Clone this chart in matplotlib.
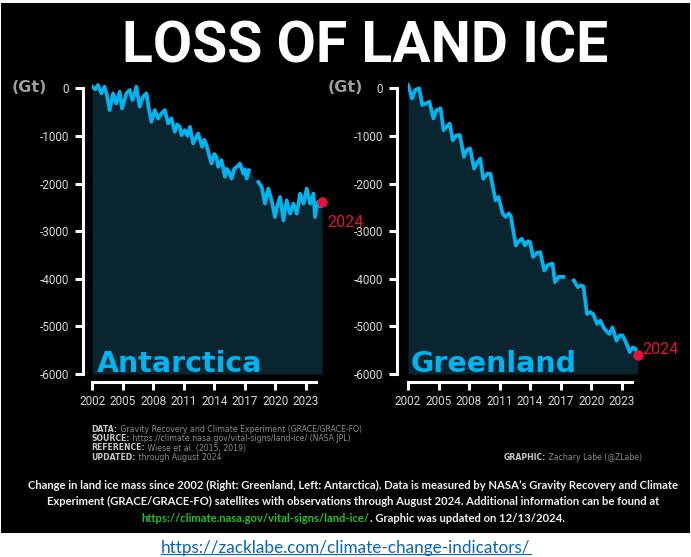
import numpy as np
import matplotlib
matplotlib.use("Agg")
import matplotlib.pyplot as plt
from matplotlib.patches import Rectangle
from matplotlib.lines import Line2D

ant_years = [
    2002.0, 2002.3, 2002.56, 2002.89, 2003.2, 2003.45, 2003.7, 2004.04, 2004.36, 2004.69,
    2004.92, 2005.15, 2005.35, 2005.68, 2005.94, 2006.15, 2006.33, 2006.66, 2006.99, 2007.32,
    2007.55, 2007.81, 2008.14, 2008.47, 2008.8, 2009.13, 2009.45, 2009.78, 2010.11, 2010.35,
    2010.6, 2010.77, 2011.1, 2011.35, 2011.59, 2011.92, 2012.15, 2012.41, 2012.8, 2013.0,
    2013.23, 2013.5, 2013.72, 2014.0, 2014.2, 2014.38, 2014.7, 2014.9, 2015.04, 2015.2,
    2015.37, 2015.7, 2015.95, 2016.19, 2016.52, 2016.85, 2017.0, 2017.17, 2017.4,
    2018.32, 2018.65, 2018.98, 2019.3, 2019.63, 2019.96, 2020.2, 2020.46, 2020.79, 2021.11,
    2021.44, 2021.77, 2022.1, 2022.43, 2022.76, 2023.08, 2023.41, 2023.74, 2023.9, 2024.1,
    2024.23, 2024.42, 2024.6,
]
ant_mass = [
    35, -20, 70, -105, 35, -150, -456, -105, -316, -70,
    -421, -250, -105, -35, -246, -120, 35, -386, -175, -105,
    -420, -702, -456, -632, -527, -456, -737, -632, -912, -760,
    -807, -983, -878, -1000, -807, -1158, -1050, -948, -1228, -1080,
    -1193, -1420, -1579, -1380, -1439, -1649, -1509, -1700, -1860, -1690,
    -1720, -1895, -1690, -1650, -1580, -1790, -1700, -1895, -1720,
    -1966, -2071, -2422, -2106, -2352, -2703, -2450, -2282, -2773, -2352,
    -2633, -2422, -2633, -2211, -2422, -2106, -2422, -2211, -2703, -2420,
    -2380, -2480, -2390,
]

grn_years = [
    2002.0, 2002.15, 2002.4, 2002.7, 2003.1, 2003.4, 2003.65, 2004.1, 2004.5, 2004.8,
    2005.2, 2005.5, 2005.8, 2006.1, 2006.4, 2006.75, 2007.1, 2007.5, 2007.8, 2008.1,
    2008.5, 2008.8, 2009.1, 2009.4, 2009.8, 2010.1, 2010.6, 2010.9, 2011.3, 2011.6,
    2011.9, 2012.1, 2012.6, 2012.85, 2013.2, 2013.5, 2013.8, 2014.0, 2014.3, 2014.65,
    2015.0, 2015.4, 2015.7, 2016.2, 2016.45, 2016.8, 2017.3,
    2018.3, 2018.7, 2019.0, 2019.25, 2019.6, 2019.9, 2020.2, 2020.6, 2020.9, 2021.3,
    2021.8, 2022.1, 2022.5, 2022.8, 2023.1, 2023.5, 2023.8, 2024.1, 2024.35, 2024.6,
]
grn_mass = [
    70, -20, -210, -35, 0, -350, -330, -280, -630, -460,
    -420, -880, -800, -740, -1090, -990, -980, -1440, -1290, -1260,
    -1685, -1560, -1475, -1900, -1790, -1790, -2350, -2280, -2630, -2700,
    -2630, -2680, -3300, -3220, -3160, -3300, -3210, -3230, -3540, -3460,
    -3440, -3825, -3720, -3680, -4070, -3960, -3960,
    -4035, -4175, -4140, -4160, -4740, -4700, -4740, -4950, -4880, -5050,
    -5160, -5020, -5300, -5190, -5190, -5370, -5540, -5440, -5470, -5600,
]

year_ticks = [2002, 2005, 2008, 2011, 2014, 2017, 2020, 2023]
mass_ticks = [-6000, -5000, -4000, -3000, -2000, -1000, 0]

source_lines = [
    ("DATA:", " Gravity Recovery and Climate Experiment (GRACE/GRACE-FO)"),
    ("SOURCE:", " https://climate.nasa.gov/vital-signs/land-ice/ (NASA JPL)"),
    ("REFERENCE:", " Wiese et al. (2015, 2019)"),
    ("UPDATED:", " through August 2024"),
]
caption_lines = [
    "Change in land ice mass since 2002 (Right: Greenland, Left: Antarctica). "
    "Data is measured by NASA\u2019s Gravity Recovery and Climate",
    "Experiment (GRACE/GRACE-FO) satellites with observations through August 2024. "
    "Additional information can be found at",
]
caption_link = "https://climate.nasa.gov/vital-signs/land-ice/"
caption_tail = ". Graphic was updated on 12/13/2024."
page_url = "https://zacklabe.com/climate-change-indicators/"

LINE = "#00b4f0"
FILL = "#082530"
RED = "#e0143c"
TICK = "#d9d9d9"
NARROW = "Roboto"

W, H = 691, 557


def fx(px):
    return px / W


def fy(py):
    return 1 - py / H


def draw_panel(ax, years, mass, name, name_x, label_dx, label_dy, spine_out):
    years = np.asarray(years, dtype=float)
    mass = np.asarray(mass, dtype=float)

    ax.fill_between(years, mass, -6000, color=FILL, lw=0, zorder=1)

    # break the line between GRACE and GRACE-FO
    gap = np.where(np.diff(years) > 0.6)[0][0] + 1
    for sl in (slice(0, gap), slice(gap, None)):
        ax.plot(years[sl], mass[sl], color=LINE, lw=2.7, solid_joinstyle="round", zorder=3)

    ax.plot(years[-1], mass[-1], "o", color=RED, ms=6.5, zorder=4, clip_on=False)
    ax.text(years[-1] + label_dx, mass[-1] + label_dy, "2024", color=RED, fontsize=11.5,
            family=NARROW, ha="left", va="center", clip_on=False)

    ax.text(name_x, -5960, name, color=LINE, fontsize=20.5, fontweight="bold",
            ha="left", va="baseline", zorder=5)

    ax.set_xlim(2002, 2024.7)
    ax.set_ylim(-6000, 150)
    ax.set_facecolor("none")
    for side in ("top", "right"):
        ax.spines[side].set_visible(False)
    ax.spines["left"].set_position(("outward", spine_out))
    ax.spines["left"].set_bounds(-6000, 0)
    ax.spines["bottom"].set_position(("outward", 5.5))
    ax.spines["bottom"].set_bounds(2002, 2024)
    for side in ("left", "bottom"):
        ax.spines[side].set_color("white")
        ax.spines[side].set_linewidth(2.2)

    ax.set_xticks(year_ticks)
    ax.set_xticklabels([str(y) for y in year_ticks])
    ax.set_yticks(mass_ticks)
    ax.set_yticklabels([str(m) for m in mass_ticks])
    ax.tick_params(color="white", labelcolor=TICK, length=5.5, width=2.2, labelsize=8.5)
    ax.tick_params(axis="x", pad=4)
    ax.tick_params(axis="y", pad=4.5)
    for lab in ax.get_xticklabels() + ax.get_yticklabels():
        lab.set_family(NARROW)


fig = plt.figure(figsize=(W / 100, H / 100), dpi=100)
fig.patch.set_facecolor("white")
fig.patches.append(Rectangle((fx(1), fy(533.3)), fx(689), (533.3 - 2.7) / H,
                             transform=fig.transFigure, facecolor="black", lw=0, zorder=-10))

ax_bottom = fy(374)
ax_height = (374 - 81.2) / H
ax_width = 230.9 / W
ax_ant = fig.add_axes([fx(92.3), ax_bottom, ax_width, ax_height])
ax_grn = fig.add_axes([fx(408), ax_bottom, ax_width, ax_height])

draw_panel(ax_ant, ant_years, ant_mass, "Antarctica", 2002.4, 0.45, -430, 7)
draw_panel(ax_grn, grn_years, grn_mass, "Greenland", 2002.25, 0.45, 120, 8)

fig.text(fx(365), fy(62.7), "LOSS OF LAND ICE", color="white", fontsize=41,
         fontweight="bold", family=NARROW, ha="center", va="baseline")
for x0 in (12, 328):
    fig.text(fx(x0), fy(88), "(Gt)", color="#9e9e9e", fontsize=11.5, fontweight="bold",
             ha="left", va="center")

# source block
src_size = 5.6
for (lab, rest), py in zip(source_lines, [429, 438.5, 448, 457.3]):
    t = fig.text(fx(91.7), fy(py), lab, color="#c8c8c8", fontsize=src_size,
                 fontweight="bold", ha="left", va="center")
    ax_ant.annotate(rest, xy=(1, 0), xycoords=t, color="#8c8c8c", fontsize=src_size,
                    ha="left", va="bottom", annotation_clip=False)
credit = fig.text(fx(642), fy(457.3), " Zachary Labe (@ZLabe)", color="#8c8c8c",
                  fontsize=src_size, ha="right", va="center")
ax_ant.annotate("GRAPHIC:", xy=(0, 0), xycoords=credit, color="#c8c8c8", fontsize=src_size,
                fontweight="bold", ha="right", va="bottom", annotation_clip=False)

# caption
cap_kw = dict(fontsize=8.1, family="Lato", fontweight="bold", va="center")
for line, py in zip(caption_lines, [485, 501.5]):
    fig.text(fx(353), fy(py), line, color="#f2f2f2", ha="center", **cap_kw)

renderer = fig.canvas.get_renderer()
t_link = fig.text(0, fy(518), caption_link, color="#22c02a", ha="left", **cap_kw)
t_tail = fig.text(0, fy(518), caption_tail, color="#f2f2f2", ha="left", **cap_kw)
w_link = t_link.get_window_extent(renderer).width
w_tail = t_tail.get_window_extent(renderer).width
start = 353 - (w_link + w_tail) / 2
t_link.set_x(fx(start))
t_tail.set_x(fx(start + w_link))

# page link below the graphic
t_url = fig.text(fx(346), fy(548), page_url, color="#0563c1", fontsize=12.3, family="Lato",
                 ha="center", va="center")
bb = t_url.get_window_extent(renderer)
fig.lines.append(Line2D([bb.x0 / W, bb.x1 / W], [(bb.y0 + 2) / H, (bb.y0 + 2) / H],
                        transform=fig.transFigure, color="#0563c1", lw=0.8))

fig.savefig("out.png", dpi=100, facecolor=fig.get_facecolor())
